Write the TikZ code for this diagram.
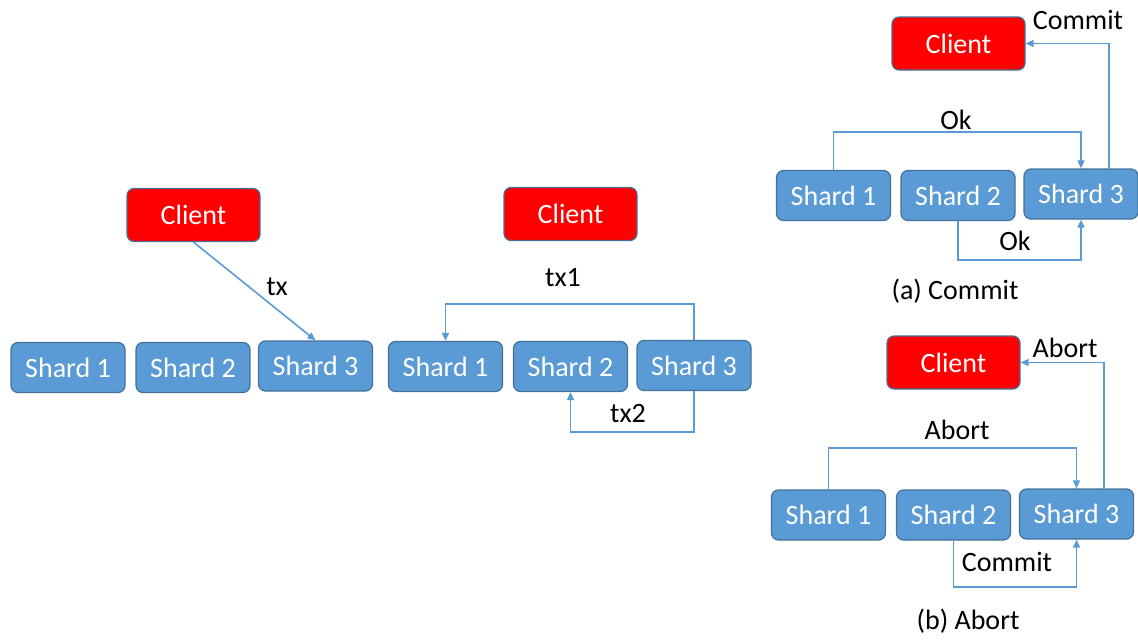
\documentclass[tikz,border=0pt]{standalone}
\usepackage{fontspec}
\setmainfont{Carlito}
\usetikzlibrary{arrows.meta,calc}
\definecolor{shardblue}{HTML}{5B9BD5}
\definecolor{edgeblue}{HTML}{41719C}
\definecolor{clientred}{HTML}{FF0000}
\tikzset{
  box/.style={draw=edgeblue, line width=1.2pt, rounded corners=7pt,
    minimum height=50pt, text=white, inner sep=0pt,
    font=\fontsize{28}{33}\selectfont},
  shard/.style={box, fill=shardblue, minimum width=114pt},
  client/.style={box, fill=clientred, minimum width=133pt, minimum height=53pt},
  conn/.style={draw=shardblue, line width=1.6pt,
    -{Triangle[length=8pt,width=7pt]}},
  lbl/.style={font=\fontsize{28}{33}\selectfont, inner sep=0pt}
}
\begin{document}
\begin{tikzpicture}[x=1pt,y=-1pt]
\useasboundingbox (0,0) rectangle (1138,640);

% single transaction sent to one shard
\node[client] (lc) at (193.5,215) {Client};
\node[shard] (l1) at (68,367.5) {Shard 1};
\node[shard] (l2) at (193,367.5) {Shard 2};
\node[shard] (l3) at (315.5,366) {Shard 3};
\draw[conn] (lc.south) -- (l3.north);
\node[lbl] (ltx) at (277,287) {tx};

% shard 3 forwards sub-transactions
\node[client] (mc) at (570.5,214) {Client};
\node[shard] (m1) at (445.5,366.5) {Shard 1};
\node[shard] (m2) at (570.5,366.5) {Shard 2};
\node[shard] (m3) at (694,365.5) {Shard 3};
\draw[conn] (m3.north) -- (m3.north |- 0,304) -| (m1.north);
\draw[conn] (m3.south) -- (m3.south |- 0,432) -| (m2.south);
\node[lbl] (mtx1) at (563,278) {tx1};
\node[lbl] (mtx2) at (628,414) {tx2};

% (a) commit
\node[client] (ac) at (958.5,43.5) {Client};
\node[shard] (a1) at (833.5,195.5) {Shard 1};
\node[shard] (a2) at (958,195.5) {Shard 2};
\node[shard] (a3) at (1081,194) {Shard 3};
\draw[conn] (a1.north) -- (a1.north |- 0,132) -| (a3.north);
\draw[conn] (a2.south) -- (a2.south |- 0,260) -| (a3.south);
\draw[conn] ([xshift=28pt]a3.north) |- (ac.east);
\node[lbl] (aok1) at (956,120) {Ok};
\node[lbl] (aok2) at (1015,241) {Ok};
\node[lbl] (acm) at (1078,20) {Commit};
\node[lbl] (acap) at (955,291) {(a) Commit};

% (b) abort
\node[client] (bc) at (953.5,362.5) {Client};
\node[shard] (b1) at (828.5,515) {Shard 1};
\node[shard] (b2) at (953.5,515) {Shard 2};
\node[shard] (b3) at (1076.5,514) {Shard 3};
\draw[conn] (b1.north) -- (b1.north |- 0,448) -| (b3.north);
\draw[conn] (b2.south) -- (b2.south |- 0,587) -| (b3.south);
\draw[conn] ([xshift=27.5pt]b3.north) |- (bc.east);
\node[lbl] (bab1) at (957,430) {Abort};
\node[lbl] (bcm) at (1007,562) {Commit};
\node[lbl] (bab2) at (1065,348) {Abort};
\node[lbl] (bcap) at (968,621) {(b) Abort};
\end{tikzpicture}
\end{document}
